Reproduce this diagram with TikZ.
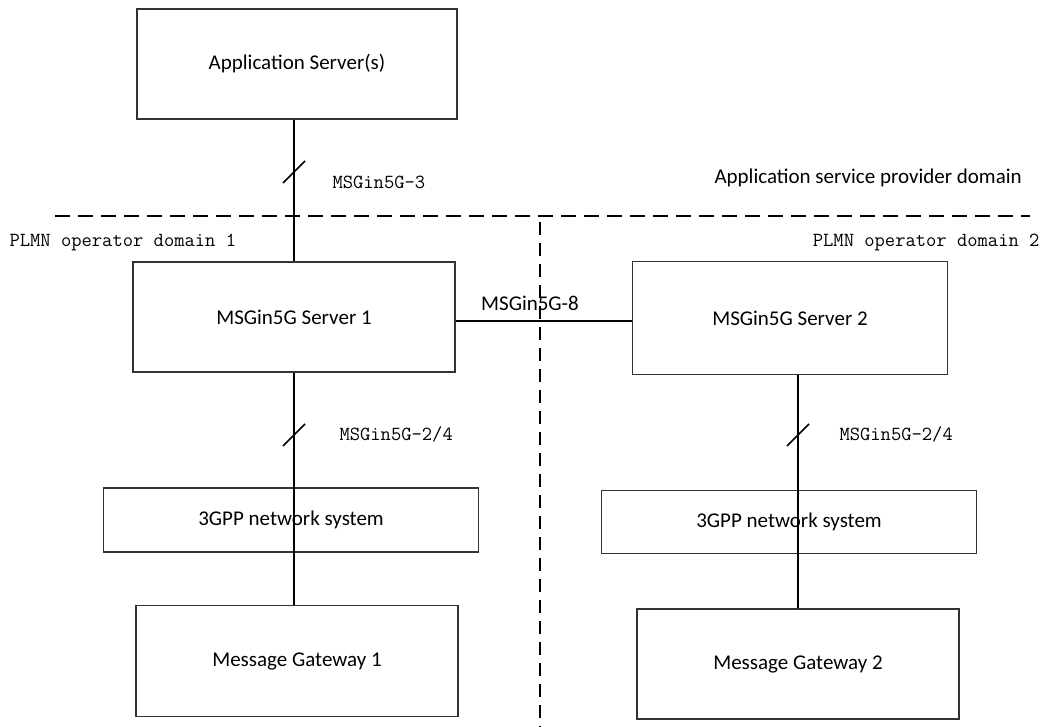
\documentclass[tikz,border=0pt]{standalone}
\usepackage{fontspec}
\setmainfont{Carlito}
\usetikzlibrary{positioning, calc}

\begin{document}
\begin{tikzpicture}[x=1pt, y=-1pt,
    box/.style={draw=black!80, line width=1.3pt, inner sep=0pt,
                font=\fontsize{21}{25}\selectfont},
    link/.style={line width=2pt},
    divider/.style={line width=2pt, dash pattern=on 15pt off 8pt},
    iflabel/.style={font=\fontsize{20}{24}\ttfamily, anchor=west},
    domainlabel/.style={font=\fontsize{20}{24}\ttfamily}]
    \useasboundingbox (0,0) rectangle (1045,727);

    % boxes
    \node[box, minimum width=320pt, minimum height=110pt] (as)  at (297,64)  {Application Server(s)};
    \node[box, minimum width=322pt, minimum height=110pt] (s1)  at (294,317) {MSGin5G Server 1};
    \node[box, minimum width=315pt, minimum height=113pt] (s2)  at (790,318) {MSGin5G Server 2};
    \node[box, minimum width=375pt, minimum height=64pt]  (nw1) at (291,520) {3GPP network system};
    \node[box, minimum width=375pt, minimum height=63pt]  (nw2) at (789,522) {3GPP network system};
    \node[box, minimum width=322pt, minimum height=111pt] (mg1) at (297,661) {Message Gateway 1};
    \node[box, minimum width=322pt, minimum height=110pt] (mg2) at (798,664) {Message Gateway 2};

    % domain borders
    \coordinate (hl) at (55,216);
    \coordinate (hr) at (1030,216);
    \coordinate (vt) at (540,222);
    \coordinate (vb) at (540,727);
    \draw[divider] (hl) -- (hr);
    \draw[divider, dash pattern=on 13pt off 8pt] (vt) -- (vb);

    \node[font=\fontsize{21}{25}\selectfont, anchor=west] (asp) at (711,178) {Application service provider domain};
    \node[domainlabel, anchor=west] (pd1) at (6,242) {PLMN operator domain 1};
    \node[domainlabel, anchor=east] (pd2) at (1043,242) {PLMN operator domain 2};

    % reference points
    \draw[link] (s1.north) -- (s1.north |- as.south);
    \draw[link] (s1.south) -- (s1.south |- mg1.north);
    \draw[link] (mg2.north) -- (mg2.north |- s2.south);
    \draw[link] (s1.east |- 0,321) -- (s2.west |- 0,321);

    % slashes
    \coordinate (k1) at (294,172);
    \coordinate (k2) at (294,435);
    \coordinate (k3) at (798,435);
    \foreach \k in {k1,k2,k3}
        \draw[line width=1.6pt] ($(\k)+(-11,11)$) -- ($(\k)+(11,-11)$);

    \node[iflabel] (r3)  at (329,182) {MSGin5G-3};
    \node[iflabel] (r24a) at (336,434) {MSGin5G-2/4};
    \node[iflabel] (r24b) at (836,434) {MSGin5G-2/4};
    \node[font=\fontsize{21}{25}\selectfont] (r8) at (530,303) {MSGin5G-8};
\end{tikzpicture}
\end{document}
